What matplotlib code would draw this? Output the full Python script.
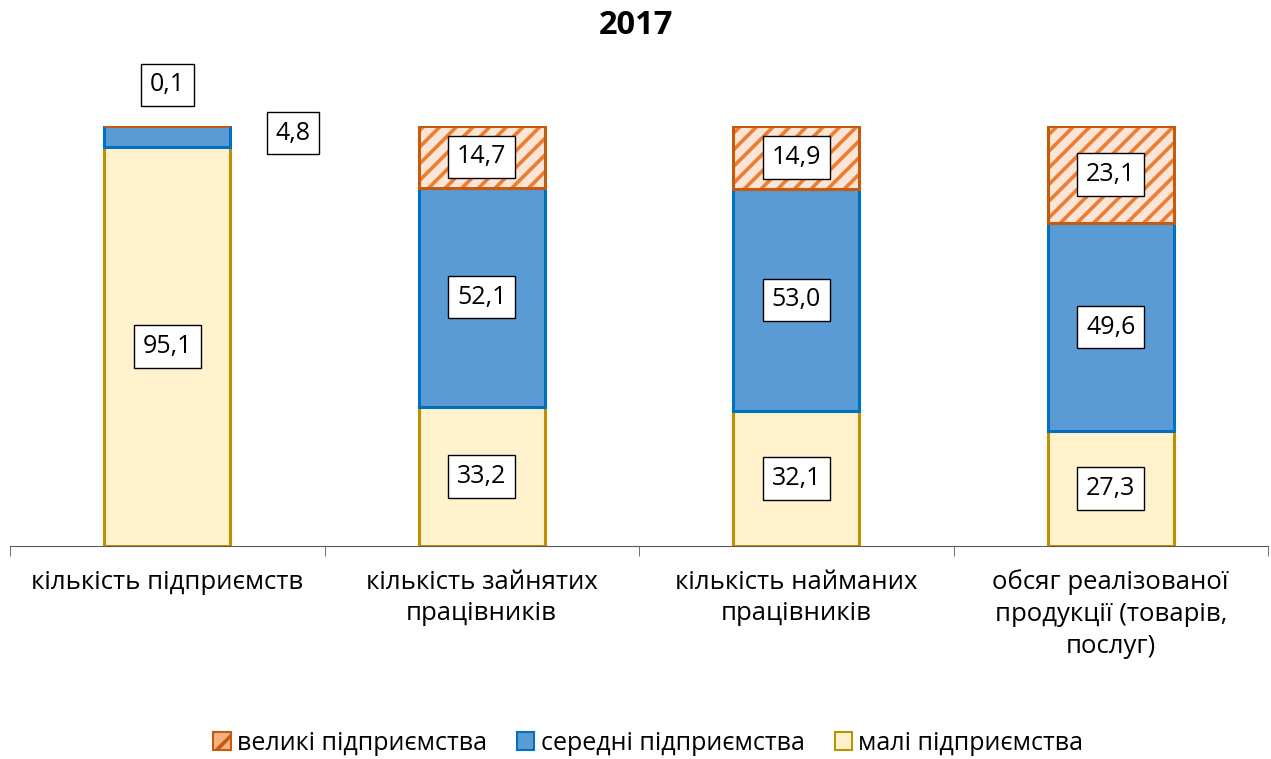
import matplotlib
matplotlib.use("Agg")
import matplotlib.pyplot as plt
import numpy as np
from matplotlib.patches import Patch

plt.rcParams['font.family'] = ['Open Sans', 'DejaVu Sans']
plt.rcParams['hatch.linewidth'] = 2.6

categories = ['кількість підприємств', 'кількість зайнятих\nпрацівників',
              'кількість найманих\nпрацівників', 'обсяг реалізованої\nпродукції (товарів,\nпослуг)']
small = [95.1, 33.2, 32.1, 27.3]
medium = [4.8, 52.1, 53.0, 49.6]
large = [0.1, 14.7, 14.9, 23.1]
series_names = ['великі підприємства', 'середні підприємства', 'малі підприємства']

def fmt(v):
    return f'{v:.1f}'.replace('.', ',')

fig = plt.figure(figsize=(12.71, 7.59), dpi=100)
ax = fig.add_axes([10 / 1271, 213 / 759, 1258 / 1271, 420 / 759])

x = np.arange(len(categories))
w = 0.40
small = np.array(small)
medium = np.array(medium)
large = np.array(large)

ax.bar(x, small, w, color='#FFF2CC', edgecolor='#BF9000', linewidth=2.2)
ax.bar(x, medium, w, bottom=small, color='#5B9BD5', edgecolor='#0070C0', linewidth=2.2)
# hatched top segment: stripes first, then the dark outline
ax.bar(x, large, w, bottom=small + medium, color='#FBE5D6', edgecolor='#ED7D31',
       hatch='//', linewidth=0)
ax.bar(x, large, w, bottom=small + medium, color='none', edgecolor='#C55A11', linewidth=2.2)

fs = 18
box = dict(boxstyle='square,pad=0.35', facecolor='white', edgecolor='black', linewidth=1)
for i in range(len(categories)):
    if i == 0:
        ax.text(i, small[i] / 2, fmt(small[i]), ha='center', va='center', fontsize=fs, bbox=box)
        ax.text(i + 0.40, 98.3, fmt(medium[i]), ha='center', va='center', fontsize=fs, bbox=box)
        ax.text(i, 109.8, fmt(large[i]), ha='center', va='center', fontsize=fs, bbox=box, clip_on=False)
    else:
        ax.text(i, small[i] / 2, fmt(small[i]), ha='center', va='center', fontsize=fs, bbox=box)
        ax.text(i, small[i] + medium[i] / 2, fmt(medium[i]), ha='center', va='center', fontsize=fs, bbox=box)
        ax.text(i, small[i] + medium[i] + large[i] / 2, fmt(large[i]), ha='center', va='center',
                fontsize=fs, bbox=box)

ax.set_xlim(-0.5, 3.5)
ax.set_ylim(0, 100)
for s in ['left', 'right', 'top']:
    ax.spines[s].set_visible(False)
ax.spines['bottom'].set_color('#595959')
ax.set_yticks([])
ax.set_xticks(x)
ax.set_xticklabels(categories, fontsize=18.5, linespacing=1.35)
ax.set_xticks(np.arange(-0.5, 4, 1), minor=True)
ax.tick_params(axis='x', which='major', length=0, pad=17)
ax.tick_params(axis='x', which='minor', length=7, color='#595959', direction='out')

fig.text(0.5, 1 - 25 / 759, '2017', ha='center', va='center', fontsize=23.5, fontweight='bold')

handles = [Patch(facecolor='#F4B183', edgecolor='#C55A11', hatch='/', linewidth=1.5),
           Patch(facecolor='#5B9BD5', edgecolor='#0070C0', linewidth=1.5),
           Patch(facecolor='#FFF2CC', edgecolor='#BF9000', linewidth=1.5)]
fig.legend(handles, series_names, loc='center', bbox_to_anchor=(0.51, 1 - 743 / 759), ncol=3,
           frameon=False, fontsize=18, handlelength=0.7, handleheight=0.7,
           handletextpad=0.25, columnspacing=1.2)

fig.savefig('out.png', dpi=100)
